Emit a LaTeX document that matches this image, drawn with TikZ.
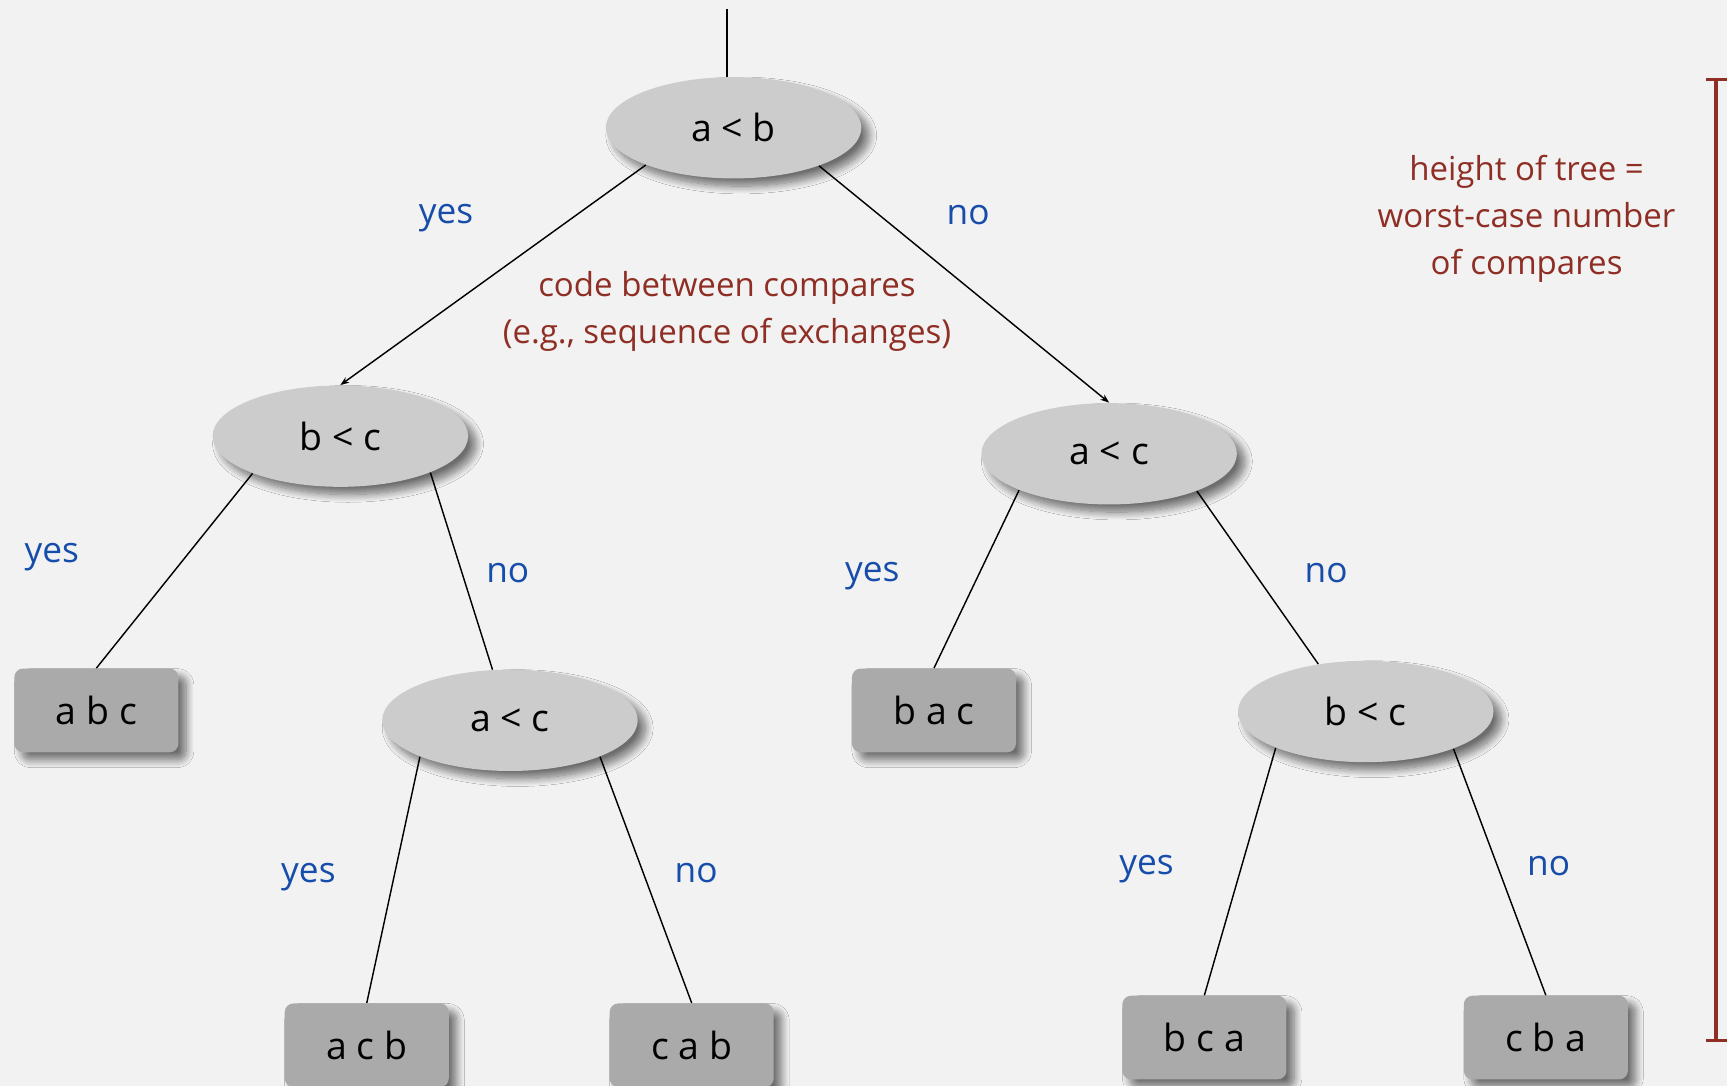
\documentclass[tikz,border=0pt]{standalone}
\usepackage{fontspec}
\setmainfont{Open Sans}
\usetikzlibrary{shapes.geometric,shadows.blur,arrows.meta}
\definecolor{bg}{HTML}{F2F2F2}
\definecolor{yesno}{RGB}{22,76,170}
\definecolor{note}{RGB}{142,46,36}
\definecolor{cmpfill}{HTML}{CCCCCC}
\definecolor{leaffill}{HTML}{AAAAAA}
\tikzset{
  myshadow/.style={blur shadow={shadow xshift=3.5pt, shadow yshift=-3.5pt, shadow blur radius=3.5pt, shadow blur steps=12, shadow opacity=55}},
  cmp/.style={ellipse, fill=cmpfill, minimum width=116pt, minimum height=46pt, inner sep=0pt,
    font=\fontsize{17}{20}\selectfont, myshadow},
  leaf/.style={rectangle, rounded corners=4pt, fill=leaffill, minimum width=74.5pt, minimum height=38pt, inner sep=0pt,
    font=\fontsize{17}{20}\selectfont, myshadow},
  lab/.style={text=yesno, font=\fontsize{16}{19}\selectfont, inner sep=0pt},
  notetext/.style={text=note, font=\fontsize{15}{21.3}\selectfont, align=center, inner sep=0pt},
  edge/.style={draw=black, line width=0.65pt},
  tipedge/.style={edge, -{Stealth[length=4pt,width=3pt]}},
}
\begin{document}
\begin{tikzpicture}[x=0.5pt,y=-0.5pt]
\fill[bg] (0,0) rectangle (1568,986);
\useasboundingbox (0,0) rectangle (1568,986);
% nodes
\node[cmp] (root) at (666,116) {a < b};
\node[cmp] (L1) at (309,396) {b < c};
\node[cmp] (R1) at (1007,412) {a < c};
\node[cmp] (L2) at (463,654) {a < c};
\node[cmp] (R2) at (1240,646) {b < c};
\node[leaf] (abc) at (87.5,645) {a b c};
\node[leaf] (bac) at (848,645) {b a c};
\node[leaf] (acb) at (333,949) {a c b};
\node[leaf] (cab) at (628,949) {c a b};
\node[leaf] (bca) at (1093.5,942) {b c a};
\node[leaf] (cba) at (1403.5,942) {c b a};
\coordinate (top) at (660,8);
% edges
\draw[edge] (top) -- (root.north -| top);
\draw[tipedge] (root.203) -- (L1.north);
\draw[tipedge] (root.336) -- (R1.north);
\draw[edge] (L1.203) -- (abc.north);
\draw[edge] (L1.338) -- (L2.109);
\draw[edge] (R1.202) -- (bac.north);
\draw[edge] (R1.337) -- (R2.135);
\draw[edge] (L2.202.5) -- (acb.north);
\draw[edge] (L2.338) -- (cab.north);
\draw[edge] (R2.202.5) -- (bca.north);
\draw[edge] (R2.337.5) -- (cba.north);
% labels
\node[lab] (y1) at (405,198) {yes};
\node[lab] (n1) at (879,195) {no};
\node[lab] (y2) at (47,506) {yes};
\node[lab] (n2) at (461,520) {no};
\node[lab] (y3) at (792,523) {yes};
\node[lab] (n3) at (1204,520) {no};
\node[lab] (y4) at (280,796) {yes};
\node[lab] (n4) at (632,793) {no};
\node[lab] (y5) at (1041,789) {yes};
\node[lab] (n5) at (1406,786) {no};
% notes
\node[notetext] (code) at (660,283) {code between compares\\(e.g., sequence of exchanges)};
\node[notetext] (height) at (1386,199) {height of tree =\\worst-case number\\of compares};
% bracket
\coordinate (bt) at (1558,72);
\coordinate (bb) at (1558,945);
\draw[note, line width=1.5pt] ([xshift=-4.5pt]bt) -- ([xshift=5pt]bt);
\draw[note, line width=1.5pt] ([xshift=-4.5pt]bb) -- ([xshift=5pt]bb);
\draw[note, line width=1.5pt] (bt) -- (bb);
\end{tikzpicture}
\end{document}
